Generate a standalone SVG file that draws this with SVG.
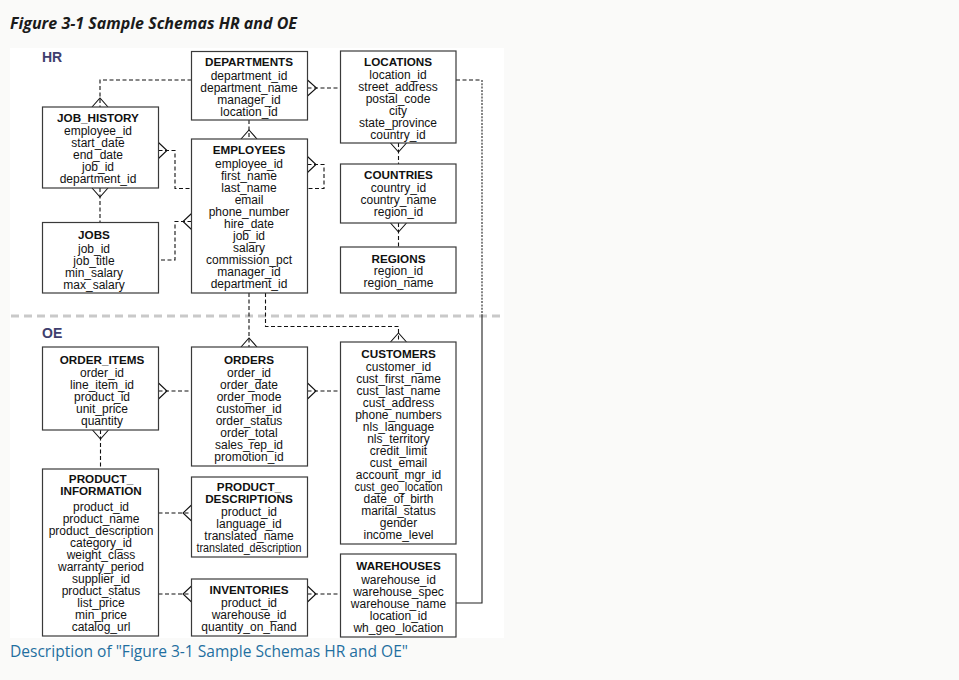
<svg xmlns="http://www.w3.org/2000/svg" width="959" height="680" viewBox="0 0 959 680">
<style>
.box{fill:#fff;stroke:#3a3a3a;stroke-width:1.2}
.t{font-family:"Liberation Sans",Arial,sans-serif;font-size:12px;text-anchor:middle;fill:#111}
.h{font-weight:bold;font-size:11.7px}
.c{fill:none;stroke:#111;stroke-width:1.1;stroke-dasharray:4 2.5}
.cf{fill:none;stroke:#111;stroke-width:1.1}
.sol{fill:none;stroke:#222;stroke-width:1.1}
.fine{fill:none;stroke:#222;stroke-width:1.1;stroke-dasharray:2 1.3}
.lbl{font-family:"Liberation Sans",Arial,sans-serif;font-size:14px;font-weight:bold;fill:#3e3e6e}
</style>
<rect width="959" height="680" fill="#fafaf9"/>
<text x="10" y="29" font-family="'Open Sans','Noto Sans',sans-serif" font-size="16" font-weight="bold" font-style="italic" fill="#1b1b1b" textLength="287" lengthAdjust="spacingAndGlyphs">Figure 3-1 Sample Schemas HR and OE</text>
<rect x="10" y="48" width="494" height="590" fill="#fff"/>
<text class="lbl" x="42" y="62">HR</text>
<text class="lbl" x="42" y="338">OE</text>
<line x1="11" y1="316" x2="500" y2="316" stroke="#c9c9c9" stroke-width="3" stroke-dasharray="8 5"/>

<g id="connectors">
<path class="c" d="M191.5 80 H100 V107"/><path class="cf" d="M92 107 L100 98 L108 107"/>
<path class="c" d="M307.5 88 H340.5"/><path class="cf" d="M307.5 80 L316.5 88 L307.5 96"/>
<path class="c" d="M249 120 V139"/><path class="cf" d="M241 139 L249 130 L257 139"/>
<path class="c" d="M158.5 150.5 H175 V188.5 H191.5"/><path class="cf" d="M158.5 142.5 L167 150.5 L158.5 158.5"/>
<path class="c" d="M307.5 164.5 H324 V188.5 H307.5"/><path class="cf" d="M307.5 156.5 L316 164.5 L307.5 172.5"/>
<path class="c" d="M191.5 221.5 H175 V260 H158.5"/><path class="cf" d="M191.5 213.5 L183 221.5 L191.5 229.5"/>
<path class="c" d="M100 188 V222.5"/><path class="cf" d="M92 188 L100 197 L108 188"/>
<path class="c" d="M398.5 143 V164"/><path class="cf" d="M390.5 143 L398.5 152 L406.5 143"/>
<path class="c" d="M398.5 223 V247"/><path class="cf" d="M390.5 223 L398.5 232 L406.5 223"/>
<path class="c" d="M456 80 H482"/><path class="fine" d="M482 80 V316"/><path class="sol" d="M482 316 V603 H456"/>
<path class="c" d="M249 293 V347"/><path class="cf" d="M241 347 L249 338 L257 347"/>
<path class="c" d="M265.5 293 V326.5 H398.5 V342"/><path class="cf" d="M390.5 342 L398.5 333 L406.5 342"/>
<path class="c" d="M158.5 391 H191.5"/><path class="cf" d="M158.5 383 L167 391 L158.5 399"/>
<path class="c" d="M307.5 391 H340.5"/><path class="cf" d="M307.5 383 L316 391 L307.5 399"/>
<path class="c" d="M100.5 430 V469"/><path class="cf" d="M92.5 430 L100.5 439 L108.5 430"/>
<path class="c" d="M158.5 513 H191.5"/><path class="cf" d="M191.5 505 L183 513 L191.5 521"/>
<path class="c" d="M158.5 594 H191.5"/><path class="cf" d="M191.5 586 L183 594 L191.5 602"/>
<path class="c" d="M307.5 594 H340.5"/><path class="cf" d="M307.5 586 L316 594 L307.5 602"/>
</g>

<g id="departments">
<rect class="box" x="191.5" y="51.5" width="116" height="68.5"/>
<text class="t h" x="249" y="66">DEPARTMENTS</text>
<text class="t" x="249" y="80">department_id</text>
<text class="t" x="249" y="92">department_name</text>
<text class="t" x="249" y="104">manager_id</text>
<text class="t" x="249" y="116">location_id</text>
</g>
<g id="locations">
<rect class="box" x="340.5" y="51" width="115.5" height="92"/>
<text class="t h" x="398" y="66">LOCATIONS</text>
<text class="t" x="398" y="79">location_id</text>
<text class="t" x="398" y="91">street_address</text>
<text class="t" x="398" y="103">postal_code</text>
<text class="t" x="398" y="115">city</text>
<text class="t" x="398" y="127">state_province</text>
<text class="t" x="398" y="139">country_id</text>
</g>
<g id="job_history">
<rect class="box" x="42.5" y="107" width="116" height="81"/>
<text class="t h" x="98" y="122">JOB_HISTORY</text>
<text class="t" x="98" y="135">employee_id</text>
<text class="t" x="98" y="147">start_date</text>
<text class="t" x="98" y="159">end_date</text>
<text class="t" x="98" y="171">job_id</text>
<text class="t" x="98" y="183">department_id</text>
</g>
<g id="employees">
<rect class="box" x="191.5" y="139" width="116" height="154"/>
<text class="t h" x="249" y="153.5">EMPLOYEES</text>
<text class="t" x="249" y="167.5">employee_id</text>
<text class="t" x="249" y="179.5">first_name</text>
<text class="t" x="249" y="191.5">last_name</text>
<text class="t" x="249" y="203.5">email</text>
<text class="t" x="249" y="215.5">phone_number</text>
<text class="t" x="249" y="227.5">hire_date</text>
<text class="t" x="249" y="239.5">job_id</text>
<text class="t" x="249" y="251.5">salary</text>
<text class="t" x="249" y="263.5">commission_pct</text>
<text class="t" x="249" y="275.5">manager_id</text>
<text class="t" x="249" y="287.5">department_id</text>
</g>
<g id="countries">
<rect class="box" x="340.5" y="164" width="115.5" height="59"/>
<text class="t h" x="398.5" y="179">COUNTRIES</text>
<text class="t" x="398.5" y="191.5">country_id</text>
<text class="t" x="398.5" y="203.5">country_name</text>
<text class="t" x="398.5" y="215.5">region_id</text>
</g>
<g id="regions">
<rect class="box" x="340.5" y="247" width="115.5" height="46"/>
<text class="t h" x="398.5" y="262.5">REGIONS</text>
<text class="t" x="398.5" y="275">region_id</text>
<text class="t" x="398.5" y="287">region_name</text>
</g>
<g id="jobs">
<rect class="box" x="42.5" y="222.5" width="116" height="70.5"/>
<text class="t h" x="94" y="239">JOBS</text>
<text class="t" x="94" y="253">job_id</text>
<text class="t" x="94" y="265">job_title</text>
<text class="t" x="94" y="277">min_salary</text>
<text class="t" x="94" y="289">max_salary</text>
</g>

<g id="order_items">
<rect class="box" x="42.5" y="347" width="116" height="83"/>
<text class="t h" x="102" y="363.5">ORDER_ITEMS</text>
<text class="t" x="102" y="377">order_id</text>
<text class="t" x="102" y="389">line_item_id</text>
<text class="t" x="102" y="401">product_id</text>
<text class="t" x="102" y="413">unit_price</text>
<text class="t" x="102" y="425">quantity</text>
</g>
<g id="orders">
<rect class="box" x="191.5" y="347" width="116" height="119"/>
<text class="t h" x="249" y="363.5">ORDERS</text>
<text class="t" x="249" y="377">order_id</text>
<text class="t" x="249" y="389">order_date</text>
<text class="t" x="249" y="401">order_mode</text>
<text class="t" x="249" y="413">customer_id</text>
<text class="t" x="249" y="425">order_status</text>
<text class="t" x="249" y="437">order_total</text>
<text class="t" x="249" y="449">sales_rep_id</text>
<text class="t" x="249" y="461">promotion_id</text>
</g>
<g id="customers">
<rect class="box" x="340.5" y="342" width="115.5" height="202"/>
<text class="t h" x="398.5" y="358">CUSTOMERS</text>
<text class="t" x="398.5" y="371">customer_id</text>
<text class="t" x="398.5" y="383">cust_first_name</text>
<text class="t" x="398.5" y="395">cust_last_name</text>
<text class="t" x="398.5" y="407">cust_address</text>
<text class="t" x="398.5" y="419">phone_numbers</text>
<text class="t" x="398.5" y="431">nls_language</text>
<text class="t" x="398.5" y="443">nls_territory</text>
<text class="t" x="398.5" y="455">credit_limit</text>
<text class="t" x="398.5" y="467">cust_email</text>
<text class="t" x="398.5" y="479">account_mgr_id</text>
<text class="t" x="398.5" y="491" textLength="88" lengthAdjust="spacingAndGlyphs">cust_geo_location</text>
<text class="t" x="398.5" y="503">date_of_birth</text>
<text class="t" x="398.5" y="515">marital_status</text>
<text class="t" x="398.5" y="527">gender</text>
<text class="t" x="398.5" y="539">income_level</text>
</g>
<g id="product_information">
<rect class="box" x="42.5" y="469" width="116" height="167"/>
<text class="t h" x="101" y="483">PRODUCT_</text>
<text class="t h" x="101" y="495">INFORMATION</text>
<text class="t" x="101" y="510.5">product_id</text>
<text class="t" x="101" y="522.5">product_name</text>
<text class="t" x="101" y="534.5">product_description</text>
<text class="t" x="101" y="546.5">category_id</text>
<text class="t" x="101" y="558.5">weight_class</text>
<text class="t" x="101" y="570.5">warranty_period</text>
<text class="t" x="101" y="582.5">supplier_id</text>
<text class="t" x="101" y="594.5">product_status</text>
<text class="t" x="101" y="606.5">list_price</text>
<text class="t" x="101" y="618.5">min_price</text>
<text class="t" x="101" y="630.5">catalog_url</text>
</g>
<g id="product_descriptions">
<rect class="box" x="191.5" y="477" width="116" height="80"/>
<text class="t h" x="249" y="491">PRODUCT_</text>
<text class="t h" x="249" y="503">DESCRIPTIONS</text>
<text class="t" x="249" y="516">product_id</text>
<text class="t" x="249" y="528">language_id</text>
<text class="t" x="249" y="540">translated_name</text>
<text class="t" x="249" y="552" textLength="105" lengthAdjust="spacingAndGlyphs">translated_description</text>
</g>
<g id="inventories">
<rect class="box" x="191.5" y="579" width="116" height="57"/>
<text class="t h" x="249" y="594">INVENTORIES</text>
<text class="t" x="249" y="607">product_id</text>
<text class="t" x="249" y="619">warehouse_id</text>
<text class="t" x="249" y="631">quantity_on_hand</text>
</g>
<g id="warehouses">
<rect class="box" x="340.5" y="554" width="115.5" height="83"/>
<text class="t h" x="398.5" y="570">WAREHOUSES</text>
<text class="t" x="398.5" y="584">warehouse_id</text>
<text class="t" x="398.5" y="596">warehouse_spec</text>
<text class="t" x="398.5" y="608">warehouse_name</text>
<text class="t" x="398.5" y="620">location_id</text>
<text class="t" x="398.5" y="632">wh_geo_location</text>
</g>

<text x="10" y="657" font-family="'Open Sans','Noto Sans',sans-serif" font-size="16" fill="#1f6fa0" textLength="398" lengthAdjust="spacingAndGlyphs">Description of "Figure 3-1 Sample Schemas HR and OE"</text>
</svg>
